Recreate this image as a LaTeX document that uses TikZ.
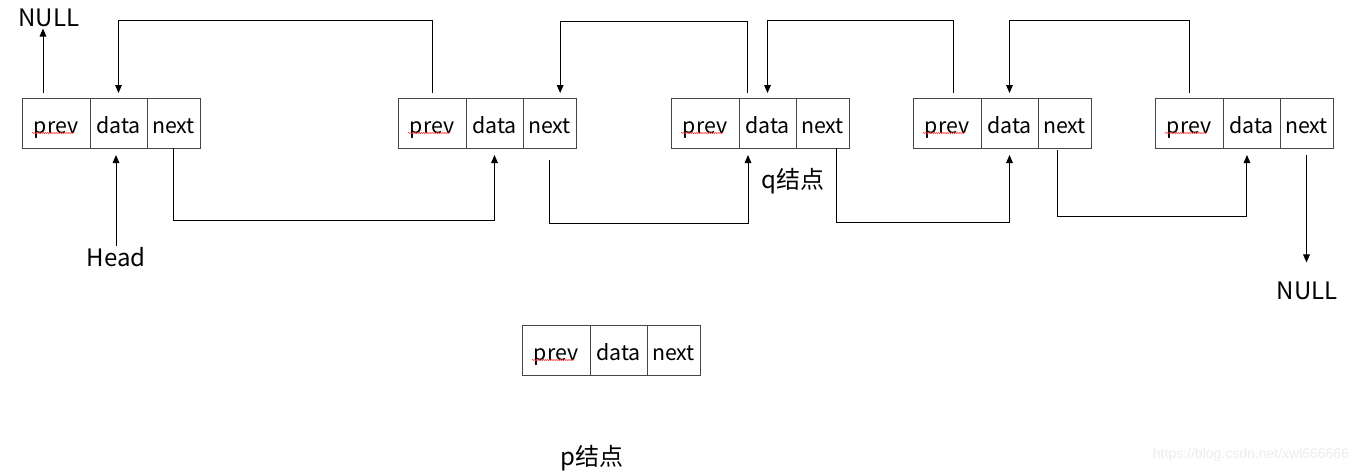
\documentclass[tikz,border=0pt]{standalone}
\usepackage{fontspec}
\setmainfont{Noto Sans CJK SC}
\newfontfamily\markfont{Liberation Sans}
\usetikzlibrary{positioning,arrows.meta,decorations.pathmorphing}
\definecolor{boxline}{RGB}{70,70,70}

\tikzset{
  cell/.style={draw=boxline, line width=0.75pt, minimum height=37.5pt,
    inner sep=0pt, outer sep=0pt, text height=15pt, text depth=0pt,
    font=\fontsize{16}{19}\selectfont},
  prevcell/.style={cell, minimum width=51pt},
  datacell/.style={cell, minimum width=42.75pt},
  nextcell/.style={cell, minimum width=39.75pt},
  ptrtext/.style={inner sep=1pt, font=\fontsize{18}{21}\selectfont},
  link/.style={draw=black, line width=0.75pt, -{Triangle[length=6pt,width=5pt]}},
  squiggle/.style={draw=red!80, line width=0.4pt,
    decorate, decoration={snake, amplitude=0.45pt, segment length=1.6pt}}
}

\begin{document}
\begin{tikzpicture}[x=0.75pt,y=0.75pt,yscale=-1,xscale=1]
\useasboundingbox (0,0) rectangle (1367,472);

% Node 1
\node[prevcell, anchor=north west] (n1p) at (22,98) {prev};
\node[datacell, right=0pt of n1p] (n1d) {data};
\node[nextcell, right=0pt of n1d] (n1n) {next};
% Node 2
\node[prevcell, anchor=north west] (n2p) at (398,98) {prev};
\node[datacell, right=0pt of n2p] (n2d) {data};
\node[nextcell, right=0pt of n2d] (n2n) {next};
% Node 3
\node[prevcell, anchor=north west] (n3p) at (671,98) {prev};
\node[datacell, right=0pt of n3p] (n3d) {data};
\node[nextcell, right=0pt of n3d] (n3n) {next};
% Node 4
\node[prevcell, anchor=north west] (n4p) at (913,98) {prev};
\node[datacell, right=0pt of n4p] (n4d) {data};
\node[nextcell, right=0pt of n4d] (n4n) {next};
% Node 5
\node[prevcell, anchor=north west] (n5p) at (1155,98) {prev};
\node[datacell, right=0pt of n5p] (n5d) {data};
\node[nextcell, right=0pt of n5d] (n5n) {next};
% p node
\node[prevcell, anchor=north west] (pp) at (522,325) {prev};
\node[datacell, right=0pt of pp] (pd) {data};
\node[nextcell, right=0pt of pd] (pn) {next};

% spell-check underline under prev
\foreach \c in {n1p,n2p,n3p,n4p,n5p,pp}
  \draw[squiggle] ([xshift=-18pt,yshift=7.5pt]\c.center) -- ([xshift=13.5pt,yshift=7.5pt]\c.center);

% Text Node
\node[ptrtext] (null1) at (49,18) {NULL};
\node[ptrtext] (head) at (116,257) {Head};
\node[ptrtext] (null2) at (1307,291) {NULL};
\node[ptrtext] (qtext) at (793,181) {q结点};
\node[ptrtext] (ptext) at (592,458) {p结点};
\node[inner sep=0pt, text=black!8, font=\markfont\fontsize{10.5}{12}\selectfont] (mark) at (1251,455) {https://blog.csdn.net/xwl666666};

% levels of the bent links
\coordinate (top1) at (0,20);
\coordinate (top2) at (0,21);
\coordinate (low1) at (0,220);
\coordinate (low2) at (0,223);
\coordinate (low3) at (0,222);
\coordinate (low4) at (0,216);

% shifted ends
\coordinate (n1up) at ([xshift=-9.75pt]n1p.north);
\coordinate (n2in) at ([xshift=8pt]n2n.north);
\coordinate (n3up) at ([xshift=6pt]n3d.north west);
\coordinate (n3dn) at ([xshift=6.75pt]n3d.south west);
\coordinate (n3out) at ([xshift=10.5pt]n3n.south);
\coordinate (n4up) at ([xshift=5pt]n4p.north);
\coordinate (n4out) at ([xshift=-5.6pt]n4n.south);
\coordinate (n5in) at ([xshift=-3.4pt]n5d.south);

%Straight Lines
\draw[link, shorten <=3.75pt] (n1up) -- (n1up |- null1.south);
\draw[link, shorten >=5.25pt] (head.north) -- (head.north |- n1d.south);
\draw[link, shorten <=5.25pt, shorten >=13.5pt] (n5n.south) -- (n5n.south |- null2.north);

%prev links
\draw[link, shorten <=3.75pt, shorten >=3.75pt] (n2p.north) |- (top1 -| n1d.north) -- (n1d.north);
\draw[link, shorten <=3.75pt, shorten >=3.75pt] (n3up) |- (top2 -| n2in) -- (n2in);
\draw[link, shorten <=3.75pt, shorten >=3.75pt] (n4up) |- (top1 -| n3d.north) -- (n3d.north);
\draw[link, shorten <=3.75pt, shorten >=3.75pt] (n5p.north) |- (top1 -| n4d.north) -- (n4d.north);

%next links
\draw[link, shorten >=5.25pt] (n1n.south) |- (low1 -| n2d.south) -- (n2d.south);
\draw[link, shorten <=9pt, shorten >=5.25pt] (n2n.south) |- (low2 -| n3dn) -- (n3dn);
\draw[link, shorten >=5.25pt] (n3out) |- (low3 -| n4d.south) -- (n4d.south);
\draw[link, shorten <=1.5pt, shorten >=5.25pt] (n4out) |- (low4 -| n5in) -- (n5in);

\end{tikzpicture}
\end{document}
